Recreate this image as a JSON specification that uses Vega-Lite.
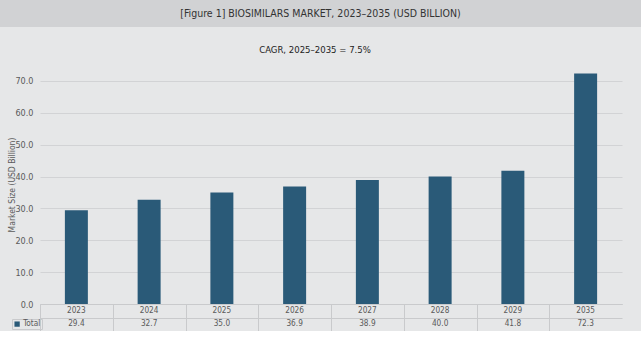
{
  "$schema": "https://vega.github.io/schema/vega-lite/v6.json",
  "background": "#e6e7e8",
  "padding": 0,
  "config": {
    "view": {"stroke": null},
    "font": "DejaVu Sans Condensed, sans-serif",
    "axis": {"labelFont": "DejaVu Sans Condensed, sans-serif", "labelColor": "#5a5a5a", "titleColor": "#5a5a5a", "titleFontWeight": "normal", "titleFont": "DejaVu Sans Condensed, sans-serif"},
    "legend": {"labelFont": "DejaVu Sans Condensed, sans-serif"}
  },
  "spacing": 17,
  "vconcat": [
    {
      "width": 601,
      "height": 27,
      "data": {"values": [{"label": "[Figure 1] BIOSIMILARS MARKET, 2023–2035 (USD BILLION)"}]},
      "layer": [
        {
          "mark": {"type": "rect", "color": "#d1d2d4"},
          "encoding": {
            "x": {"datum": 0, "type": "quantitative", "scale": {"domain": [0, 1], "range": [-40, 601]}, "axis": null},
            "x2": {"datum": 1}
          }
        },
        {
          "mark": {"type": "text", "fontSize": 10.5, "color": "#333333", "baseline": "middle", "align": "center"},
          "encoding": {
            "x": {"datum": 0.5, "type": "quantitative"},
            "text": {"field": "label"}
          }
        }
      ]
    },
    {
      "bounds": "flush",
      "spacing": 0,
      "data": {"values": [
        {"year": "2023", "value": 29.4, "series": "Total"},
        {"year": "2024", "value": 32.7, "series": "Total"},
        {"year": "2025", "value": 35.0, "series": "Total"},
        {"year": "2026", "value": 36.9, "series": "Total"},
        {"year": "2027", "value": 38.9, "series": "Total"},
        {"year": "2028", "value": 40.0, "series": "Total"},
        {"year": "2029", "value": 41.8, "series": "Total"},
        {"year": "2035", "value": 72.3, "series": "Total"}
      ]},
      "vconcat": [
        {
          "width": 582,
          "height": 239,
          "title": {"text": "CAGR, 2025–2035 = 7.5%", "fontSize": 9.5, "fontWeight": "normal", "color": "#222222", "offset": 11, "dx": -16},
          "mark": {"type": "bar"},
          "encoding": {
            "x": {"field": "year", "type": "nominal", "sort": null,
              "scale": {"paddingInner": 0.684, "paddingOuter": 0.342},
              "axis": {"labels": false, "ticks": false, "title": null, "domainColor": "#c9cacc", "domainWidth": 1}},
            "y": {"field": "value", "type": "quantitative",
              "scale": {"domain": [0, 75], "nice": false},
              "axis": {"values": [0, 10, 20, 30, 40, 50, 60, 70], "format": ".1f", "grid": true, "gridColor": "#d2d3d5", "domain": false, "ticks": false, "labelPadding": 7, "labelFontSize": 9,
                "title": "Market Size (USD Billion)", "titleFontSize": 8.5, "titleX": -29, "titleBaseline": "middle"}},
            "color": {"field": "series", "type": "nominal", "scale": {"range": ["#2a5a78"]},
              "legend": {"orient": "none", "legendX": -28, "legendY": 319, "title": null, "symbolType": "square", "symbolSize": 28, "symbolStrokeWidth": 0, "labelFontSize": 8.2, "labelColor": "#5a5a5a", "labelOffset": 2, "padding": 1, "strokeColor": "#c9cacc"}}
          }
        },
        {
          "width": 582,
          "height": 27,
          "encoding": {
            "x": {"field": "year", "type": "nominal", "sort": null,
              "scale": {"paddingInner": 0, "paddingOuter": 0},
              "axis": {"orient": "top", "labels": false, "ticks": false, "domain": false, "title": null, "grid": true, "tickBand": "extent", "gridColor": "#c9cacc",
                "gridOpacity": {"condition": {"test": "datum.index >= 1", "value": 0}, "value": 1}}}
          },
          "layer": [
            {
              "mark": {"type": "text", "fontSize": 8.2, "color": "#5a5a5a"},
              "encoding": {
                "y": {"datum": "year", "type": "nominal",
                  "scale": {"type": "band", "domain": ["year", "Total"], "paddingInner": 0, "paddingOuter": 0},
                  "axis": {"labels": false, "ticks": false, "domain": false, "grid": true, "tickBand": "extent", "gridColor": "#c9cacc", "title": null}},
                "text": {"field": "year"}
              }
            },
            {
              "mark": {"type": "text", "fontSize": 8.2, "color": "#5a5a5a"},
              "encoding": {
                "y": {"datum": "Total", "type": "nominal"},
                "text": {"field": "value", "format": ".1f"}
              }
            }
          ]
        }
      ]
    }
  ]
}
